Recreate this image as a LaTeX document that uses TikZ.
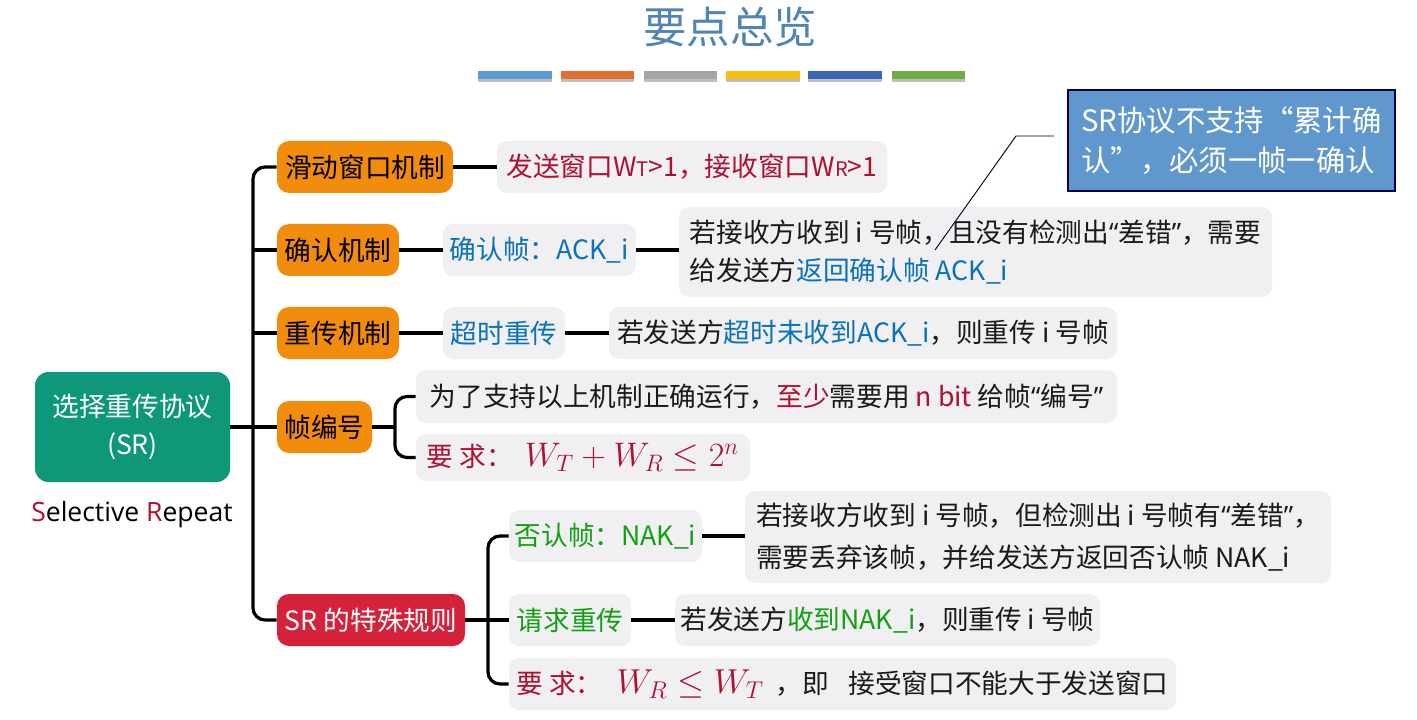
\RequirePackage{fix-cm}
\documentclass[tikz,border=0pt]{standalone}
\usepackage{fontspec}
\usepackage{amsmath}
\setmainfont{Noto Sans CJK SC}
\newfontfamily\lat{Open Sans}
\newcommand{\fs}[1]{\fontsize{#1}{#1}\selectfont}
\newcommand{\ql}{{\lat “}}
\newcommand{\qr}{{\lat ”}}
\usetikzlibrary{calc}
\definecolor{cgray}{HTML}{F0EFF2}
\definecolor{corange}{HTML}{F28C0C}
\definecolor{cgreen}{HTML}{0F977A}
\definecolor{cred}{HTML}{D5213A}
\definecolor{cblue}{HTML}{6098CE}
\definecolor{ctitle}{HTML}{4F84B4}
\definecolor{tred}{HTML}{B01030}
\definecolor{tblue}{HTML}{0A72B8}
\definecolor{tgreen}{HTML}{12A012}
\definecolor{tgrey}{HTML}{1A1A1A}
\definecolor{bara}{HTML}{5B9BD5}
\definecolor{barb}{HTML}{E2702C}
\definecolor{barc}{HTML}{A5A5A5}
\definecolor{bard}{HTML}{F5BF0A}
\definecolor{bare}{HTML}{3A68B8}
\definecolor{barf}{HTML}{70AD47}
\newcommand{\R}[1]{\textcolor{tred}{#1}}
\newcommand{\B}[1]{\textcolor{tblue}{#1}}
\newcommand{\G}[1]{\textcolor{tgreen}{#1}}
\newcommand{\bx}[7][gbox]{% style, name, x1,y1,x2,y2, text
  \node[#1,minimum width={(#5-#3)*0.75pt},minimum height={(#6-#4)*0.75pt}] (#2) at ({(#3+#5)/2},{(#4+#6)/2}) {#7};}
\newcommand{\barx}[4]{% name x1 x2 colour
  \fill[black!25] (#2,76) rectangle (#3,82);
  \node[barn,fill=#4,minimum width={(#3-#2)*0.75pt}] (#1) at ({(#2+#3)/2},75) {};}
\tikzset{
  x=0.75pt,y=-0.75pt,
  gbox/.style={fill=cgray,rounded corners=7.5pt,inner sep=0pt,text=tgrey,font=\fs{20},align=left},
  obox/.style={fill=corange,rounded corners=9pt,inner sep=0pt,text=black,font=\fs{20}},
  rootbox/.style={fill=cgreen,rounded corners=10pt,inner sep=0pt,text=white,font=\fs{20},align=center},
  rbox/.style={fill=cred,rounded corners=9pt,inner sep=0pt,text=white,font=\fs{20}},
  calloutbox/.style={fill=cblue,draw=black!70!blue,line width=0.8pt,inner sep=0pt,text=white,font=\fs{22},align=left},
  conn/.style={line width=2.4pt,draw=black,rounded corners=9pt},
  barn/.style={inner sep=0pt,minimum height=6pt},
  lead/.style={line width=0.7pt,draw=black!85!blue}
}
\begin{document}
\begin{tikzpicture}
\useasboundingbox (0,0) rectangle (1417,720);
\fill[white] (0,0) rectangle (1417,720);
% title and bars
\node[text=ctitle,font=\fs{32.6},inner sep=0pt] (title) at (730,27) {要点总览};
\barx{b1}{478}{552}{bara}
\barx{b2}{561}{634}{barb}
\barx{b3}{644}{717}{barc}
\barx{b4}{726}{800}{bard}
\barx{b5}{808}{882}{bare}
\barx{b6}{892}{965}{barf}
% root
\bx[rootbox]{root}{35}{372}{230}{482}{选择重传协议\\[9pt](SR)}
\node[font=\lat\fs{19.9},inner sep=0pt] (en) at (132,515) {\textcolor{tred}{S}elective \textcolor{tred}{R}epeat};
% first level
\bx[obox]{m1}{277}{141}{453}{193}{滑动窗口机制}
\bx[obox]{m2}{277}{224}{399}{276}{确认机制}
\bx[obox]{m3}{277}{307}{399}{359}{重传机制}
\bx[obox]{m4}{277}{401}{372}{453}{帧编号}
\bx[rbox]{m5}{277}{594}{465}{646}{SR 的特殊规则}
% details
\bx{a1}{497}{141}{887}{193}{\R{发送窗口W{\fs{15}T}>1，接收窗口W{\fs{15}R}>1}}
\bx{a2}{443}{224}{636}{276}{\B{确认帧：ACK\_i}}
\bx{a3}{679}{207}{1272}{297}{若接收方收到 i 号帧，且没有检测出\ql 差错\qr ，需要\\[9pt]给发送方\B{返回确认帧 ACK\_i}}
\bx{c1}{443}{307}{565}{359}{\B{超时重传}}
\bx{c2}{609}{307}{1117}{359}{若发送方\B{超时未收到ACK\_i}，则重传 i 号帧}
\bx{d1}{416}{370}{1117}{423}{为了支持以上机制正确运行，\R{至少}需要用 \R{n bit} 给帧\ql 编号\qr}
\bx{d2}{416}{434}{750}{481}{\R{要 求：\hspace{9pt}{\fs{25.5}$W_T+W_R\le 2^n$}}}
\bx{e1}{509}{510}{702}{562}{\G{否认帧：NAK\_i}}
\bx{e2}{745}{491}{1331}{583}{若接收方收到 i 号帧，但检测出 i 号帧有\ql 差错\qr ，\\[11pt]需要丢弃该帧，并给发送方返回否认帧 NAK\_i}
\bx{f1}{509}{594}{631}{646}{\G{请求重传}}
\bx{f2}{675}{594}{1100}{646}{若发送方\G{收到NAK\_i}，则重传 i 号帧}
\bx{h1}{509}{658}{1176}{710}{\R{要 求：\hspace{10.5pt}{\fs{26}$W_R\le W_T$}} \ ，即\hspace{10pt} 接受窗口不能大于发送窗口}
% callout
\bx[calloutbox]{note}{1068}{90}{1395}{191}{SR协议不支持“累计确\\[8pt]认”，必须一帧一确认}
\coordinate (la) at (1054,136);
\coordinate (lb) at (1016,136);
\coordinate (lc) at (935,250);
\draw[lead] (la) -- (lb) -- (lc);
% connectors
\coordinate (trunk) at (253,427);
\coordinate (fork1) at (395,427);
\coordinate (fork2) at (488,620);
\draw[conn] (root.east) -- (m4.west);
\draw[conn] (m1.west) -| (trunk) |- (m5.west);
\draw[conn] (m2.west) -- (m2.west -| trunk);
\draw[conn] (m3.west) -- (m3.west -| trunk);
\draw[conn] (m1.east) -- (a1.west);
\draw[conn] (m2.east) -- (a2.west);
\draw[conn] (a2.east) -- (a2.east -| a3.west);
\draw[conn] (m3.east) -- (c1.west);
\draw[conn] (c1.east) -- (c2.west);
\draw[conn] (m4.east) -- (fork1);
\draw[conn] (d1.west) -| (fork1) |- (d2.west);
\draw[conn] (m5.east) -- (f1.west);
\draw[conn] (e1.west) -| (fork2) |- (h1.west);
\draw[conn] (e1.east) -- (e1.east -| e2.west);
\draw[conn] (f1.east) -- (f2.west);
\end{tikzpicture}
\end{document}
